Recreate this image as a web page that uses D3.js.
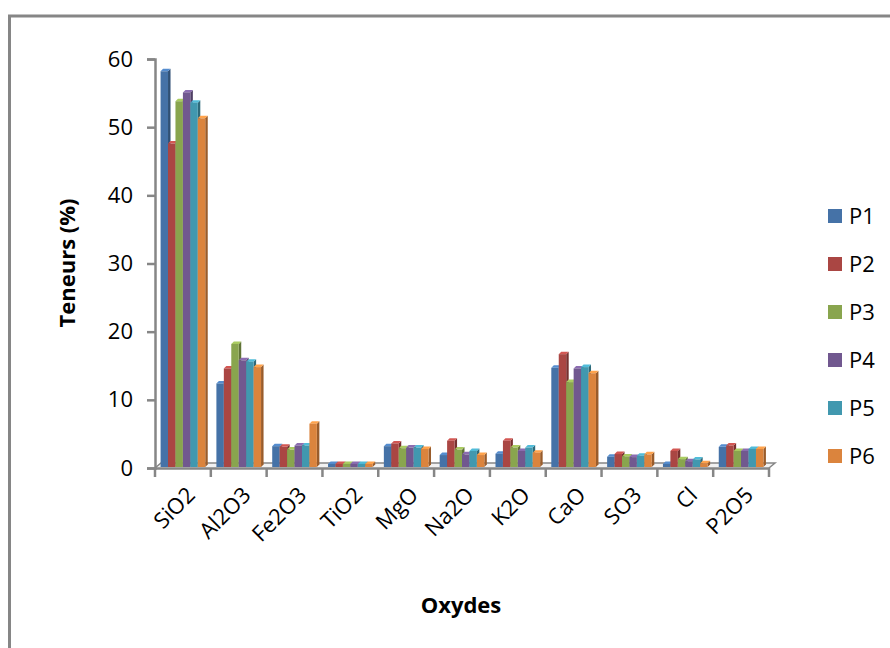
<!DOCTYPE html>
<html>
<head>
<meta charset="utf-8">
<script src="https://cdn.jsdelivr.net/npm/d3@7"></script>
<style>
  body { margin: 0; background: #fff; }
  text { font-family: "Open Sans", Lato, sans-serif; fill: #000; }
</style>
</head>
<body>
<svg id="chart" width="890" height="648"></svg>
<script>
const oxydes = ["SiO2", "Al2O3", "Fe2O3", "TiO2", "MgO", "Na2O", "K2O", "CaO", "SO3", "Cl", "P2O5"]
const series = ["P1", "P2", "P3", "P4", "P5", "P6"]
const colors = ["#4572a7", "#aa4643", "#89a54e", "#71588f", "#4198af", "#db843d"]
const P1 = [58.2, 12.4, 3.2, 0.6, 3.2, 1.9, 2.1, 14.7, 1.65, 0.6, 3.1]
const P2 = [47.6, 14.6, 3.1, 0.6, 3.6, 4.0, 4.0, 16.7, 2.05, 2.5, 3.3]
const P3 = [53.8, 18.2, 2.7, 0.6, 2.9, 2.7, 3.0, 12.6, 1.7, 1.3, 2.5]
const P4 = [55.1, 15.8, 3.3, 0.6, 3.0, 2.0, 2.5, 14.6, 1.6, 1.0, 2.5]
const P5 = [53.6, 15.6, 3.3, 0.6, 3.0, 2.5, 3.0, 14.8, 1.8, 1.25, 2.8]
const P6 = [51.3, 14.8, 6.5, 0.6, 2.8, 1.9, 2.25, 13.9, 2.0, 0.7, 2.8]
const values = [P1, P2, P3, P4, P5, P6]
const yTicks = [0, 10, 20, 30, 40, 50, 60]

const svg = d3.select("#chart")
const gray = "#868686"
const fs = "22px"

// chart frame (left and top edges only are visible)
svg.append("path")
    .attr("d", "M9.5,648 L9.5,16 L890,16")
    .attr("fill", "none").attr("stroke", gray).attr("stroke-width", 3)

let x0 = d3.scaleBand().domain(oxydes).range([155, 769]).paddingInner(0).paddingOuter(0)
let x1 = d3.scaleBand().domain(series).range([0, x0.bandwidth()]).paddingOuter(0.75).paddingInner(0)
let y = d3.scaleLinear().domain([0, 60]).range([468, 59])

// floor
const dx = 6, dy = 5
svg.append("path")
    .attr("d", `M155,${y(0)} L${155 + dx},${y(0) - dy} L${769 + dx},${y(0) - dy} L769,${y(0)}`)
    .attr("fill", "#f2f2f2").attr("stroke", gray).attr("stroke-width", 1.5)

// bars, with a small 3d side and top
const depth = 2.5
oxydes.forEach((ox, i) => {
    series.forEach((s, j) => {
        let v = values[j][i]
        let bx = x0(ox) + x1(s)
        let bw = x1.bandwidth()
        let top = y(v)
        let base = y(0) - 1
        let c = d3.color(colors[j])
        let g = svg.append("g")
        g.append("path")
            .attr("d", `M${bx + bw},${top} L${bx + bw + depth},${top - depth} L${bx + bw + depth},${base - depth} L${bx + bw},${base} Z`)
            .attr("fill", c.darker(1))
        g.append("path")
            .attr("d", `M${bx},${top} L${bx + depth},${top - depth} L${bx + bw + depth},${top - depth} L${bx + bw},${top} Z`)
            .attr("fill", c.brighter(0.6))
        g.append("rect")
            .attr("x", bx).attr("y", top)
            .attr("width", bw).attr("height", base - top)
            .attr("fill", colors[j])
    })
})

// y axis
let yAxis = d3.axisLeft(y).tickValues(yTicks).tickSize(8).tickPadding(14)
let ga = svg.append("g").attr("transform", "translate(155,0)").call(yAxis)
ga.select(".domain").attr("stroke", gray).attr("stroke-width", 2.5)
ga.selectAll(".tick line").attr("stroke", gray).attr("stroke-width", 2.5)
ga.selectAll(".tick text").style("font-size", fs).attr("fill", "#000")

// x axis
let xAxis = d3.axisBottom(x0).tickSize(0).tickPadding(0)
let gx = svg.append("g").attr("transform", `translate(0,${y(0)})`).call(xAxis)
gx.select(".domain").attr("stroke", gray).attr("stroke-width", 2.5)
gx.selectAll(".tick text").remove()
oxydes.concat(["end"]).forEach((d, i) => {
    let tx = 155 + i * x0.bandwidth()
    gx.append("line").attr("x1", tx).attr("x2", tx).attr("y1", 0).attr("y2", 9)
        .attr("stroke", gray).attr("stroke-width", 2.5)
})
gx.selectAll(".lbl").data(oxydes).join("text")
    .attr("class", "lbl")
    .attr("transform", d => `translate(${x0(d) + x0.bandwidth() / 2 + 8},${23}) rotate(-45)`)
    .attr("text-anchor", "end")
    .attr("dy", "0.35em")
    .style("font-size", fs)
    .text(d => d)

// titles
svg.append("text")
    .attr("transform", "translate(75,263) rotate(-90)")
    .attr("text-anchor", "middle")
    .style("font-size", fs).style("font-weight", "bold")
    .text("Teneurs (%)")
svg.append("text")
    .attr("x", 461).attr("y", 613)
    .attr("text-anchor", "middle")
    .style("font-size", fs).style("font-weight", "bold")
    .text("Oxydes")

// legend
let leg = svg.selectAll(".leg").data(series).join("g")
    .attr("class", "leg")
    .attr("transform", (d, i) => `translate(828,${216 + i * 48})`)
leg.append("rect").attr("x", 0).attr("y", -7).attr("width", 14).attr("height", 14)
    .attr("fill", (d, i) => colors[i])
leg.append("text").attr("x", 21).attr("dy", "0.36em")
    .style("font-size", fs)
    .text(d => d)
</script>
</body>
</html>
